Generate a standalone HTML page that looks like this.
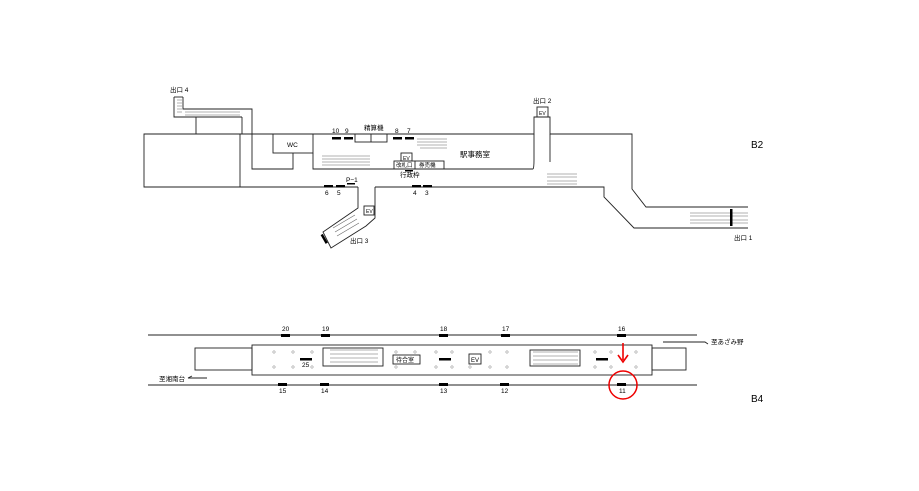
<!DOCTYPE html>
<html><head><meta charset="utf-8"><style>
body{margin:0;background:#fff}
svg{display:block}
text{font-family:"Liberation Sans","Noto Sans CJK JP",sans-serif;fill:#000}
</style></head><body>
<svg width="919" height="491" viewBox="0 0 919 491" xmlns="http://www.w3.org/2000/svg">
<g fill="none" stroke="#222" stroke-width="0.9">
<polyline points="252,134 144,134 144,187 358,187"/>
<line x1="240" y1="134" x2="240" y2="187"/>
<polyline points="174,97 174,117 196,117 196,134"/>
<line x1="242" y1="117" x2="242" y2="134"/>
<polyline points="183,97 183,109 252,109 252,169 293,169 293,153"/>
<line x1="196" y1="117" x2="242" y2="117"/>
<line x1="174" y1="97" x2="183" y2="97"/>
<polyline points="252,134 534,134 534,117 550,117 550,134 632,134 632,189 646,207 748,207"/>
<polyline points="375,187 604,187 604,197 634,228 748,228"/>
<rect x="273" y="134" width="40" height="19"/>
<polyline points="313,153 313,169 533,169"/>
<path d="M533,169 Q534,168 534,160 L534,134"/>
<polyline points="550,134 550,162 Q550,170 556,170 L632,170"/>
<rect x="355" y="134" width="32" height="8"/>
<line x1="371" y1="134" x2="371" y2="142"/>
<rect x="401" y="153" width="11" height="8"/>
<rect x="394" y="161" width="50" height="8"/>
<line x1="415" y1="161" x2="415" y2="169"/>
<polyline points="358,187 358,208 323,232 331,248 366,226 375,218 375,187"/>
<rect x="364" y="206" width="10" height="9"/>
<rect x="537" y="107" width="11" height="10"/>
<g stroke="#666" stroke-width="0.6">
<path d="M417,139h30M417,142h30M417,145h30M420,148h27"/>
<path d="M177,100h5M177,103h5M177,106h5M177,109h5M177,112h5"/>
<path d="M185,112h55M185,115h55"/>
<path d="M322,156h48M322,159h48M322,162h48M322,165h48"/>
<path d="M547,174h30M547,177h30M547,181h30M547,184h30"/>
<path d="M690,213h58M690,216h58M690,220h58M690,223h58"/>
<path d="M333,228l22,-13M335,232l22,-13M337,236l22,-13"/>
<path d="M330,350h48M330,354h48M330,358h48M330,362h48M330,366h48"/>
<path d="M533,352h45M533,356h45M533,360h45M533,364h45"/>
</g>
<line x1="148" y1="335" x2="697" y2="335"/>
<line x1="148" y1="385" x2="697" y2="385"/>
<rect x="252" y="345" width="400" height="30"/>
<rect x="195" y="348" width="57" height="22"/>
<rect x="652" y="348" width="34" height="22"/>
<rect x="323" y="348" width="60" height="18"/>
<rect x="530" y="350" width="50" height="16"/>
<rect x="393" y="355" width="27" height="9"/>
<rect x="469" y="354" width="12" height="10"/>
<polyline points="663,342 705,342 708,344"/>
<polyline points="207,378 188,378 192,376"/>
</g>
<g fill="#000">
<rect x="332" y="137" width="9" height="2.5"/><rect x="344" y="137" width="9" height="2.5"/>
<rect x="393" y="137" width="9" height="2.5"/><rect x="405" y="137" width="9" height="2.5"/>
<rect x="324" y="185" width="9" height="2.5"/><rect x="336" y="185" width="9" height="2.5"/>
<rect x="412" y="185" width="9" height="2.5"/><rect x="423" y="185" width="9" height="2.5"/>
<rect x="347" y="183" width="8" height="1.5"/><rect x="405" y="170" width="8" height="1.5"/>
<rect x="730" y="209" width="2.5" height="17"/>
<rect x="323" y="234" width="2.5" height="10" transform="rotate(-30 324 239)"/>
<rect x="281" y="334" width="9" height="3"/><rect x="321" y="334" width="9" height="3"/>
<rect x="439" y="334" width="9" height="3"/><rect x="501" y="334" width="9" height="3"/>
<rect x="617" y="334" width="9" height="3"/>
<rect x="278" y="383" width="9" height="3"/><rect x="320" y="383" width="9" height="3"/>
<rect x="439" y="383" width="9" height="3"/><rect x="500" y="383" width="9" height="3"/>
<rect x="617" y="383" width="9" height="3"/>
<rect x="300" y="358" width="12" height="2.5"/><rect x="439" y="358" width="12" height="2.5"/>
<rect x="596" y="358" width="12" height="2.5"/>
</g>
<g fill="none" stroke="#777" stroke-width="0.5">
<circle cx="274" cy="352" r="1.2"/><circle cx="293" cy="352" r="1.2"/><circle cx="312" cy="352" r="1.2"/>
<circle cx="274" cy="367" r="1.2"/><circle cx="293" cy="367" r="1.2"/><circle cx="312" cy="367" r="1.2"/>
<circle cx="396" cy="352" r="1.2"/><circle cx="415" cy="352" r="1.2"/><circle cx="436" cy="352" r="1.2"/><circle cx="452" cy="352" r="1.2"/>
<circle cx="396" cy="367" r="1.2"/><circle cx="436" cy="367" r="1.2"/><circle cx="452" cy="367" r="1.2"/><circle cx="470" cy="367" r="1.2"/>
<circle cx="490" cy="352" r="1.2"/><circle cx="507" cy="352" r="1.2"/><circle cx="490" cy="367" r="1.2"/><circle cx="507" cy="367" r="1.2"/>
<circle cx="595" cy="352" r="1.2"/><circle cx="611" cy="352" r="1.2"/><circle cx="636" cy="352" r="1.2"/>
<circle cx="595" cy="367" r="1.2"/><circle cx="611" cy="367" r="1.2"/><circle cx="636" cy="367" r="1.2"/>
</g>
<line x1="623" y1="343" x2="623" y2="360" stroke="#e00" stroke-width="1.6"/>
<polyline points="618,355 623,362 628,355" fill="none" stroke="#e00" stroke-width="1.6"/>
<circle cx="623" cy="385" r="14" fill="none" stroke="#e00" stroke-width="1.5"/>
<g font-size="6.5">
<text x="170" y="92">出口 4</text>
<text x="533" y="103">出口 2</text>
<text x="350" y="243">出口 3</text>
<text x="734" y="240">出口 1</text>
<text x="287" y="147">WC</text>
<text x="364" y="130">精算機</text>
<text x="332" y="133">10</text><text x="345" y="133">9</text>
<text x="395" y="133">8</text><text x="407" y="133">7</text>
<text x="325" y="195">6</text><text x="337" y="195">5</text>
<text x="413" y="195">4</text><text x="425" y="195">3</text>
<text x="346" y="182">P−1</text>
<text x="403" y="160" font-size="5">EV</text>
<text x="396" y="167" font-size="5.5">改札口</text>
<text x="419" y="167" font-size="5.5">券売機</text>
<text x="400" y="177">行政枠</text>
<text x="366" y="213" font-size="5">EV</text>
<text x="539" y="115" font-size="5">EV</text>
<text x="460" y="157" font-size="7.5">駅事務室</text>
<text x="282" y="331">20</text><text x="322" y="331">19</text><text x="440" y="331">18</text>
<text x="502" y="331">17</text><text x="618" y="331">16</text>
<text x="279" y="393">15</text><text x="321" y="393">14</text><text x="440" y="393">13</text>
<text x="501" y="393">12</text><text x="619" y="393">11</text>
<text x="302" y="367">25</text>
<text x="396" y="362" font-size="6">待合室</text>
<text x="471" y="362" font-size="6">EV</text>
<text x="711" y="344">至あざみ野</text>
<text x="159" y="381">至湘南台</text>
</g>
<text x="751" y="148" font-size="10">B2</text>
<text x="751" y="402" font-size="10">B4</text>
</svg>
</body></html>
